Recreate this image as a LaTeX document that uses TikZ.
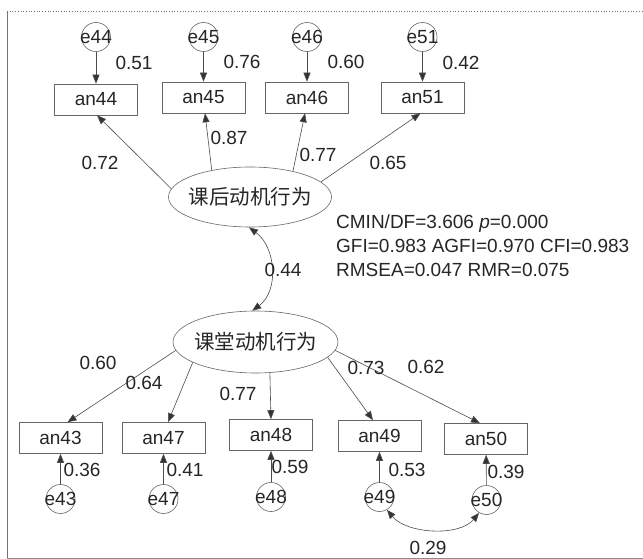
\documentclass[tikz,border=0pt]{standalone}
\usepackage{fontspec}
\setmainfont{Liberation Sans}
\newfontfamily\cjkfont{Noto Sans CJK SC}
\usetikzlibrary{shapes.geometric,arrows.meta}
\newcommand\labfont{\fontsize{19}{22}\selectfont}
\newcommand\latfont{\cjkfont\fontsize{20.5}{24}\selectfont}
\begin{document}
\begin{tikzpicture}[x=1pt,y=-1pt,
  ln/.style={draw=black!70, line width=0.6pt},
  arr/.style={ln, -{Triangle[length=9pt,width=7pt,fill=black!80]}},
  darr/.style={ln, {Triangle[length=9pt,width=7pt,fill=black!80]}-{Triangle[length=9pt,width=7pt,fill=black!80]}},
  obs/.style={draw=black!60, line width=0.6pt, minimum width=83pt, minimum height=31pt, inner sep=0pt, font=\labfont, text=black!85},
  err/.style={circle, draw=black!60, line width=0.6pt, minimum size=29pt, inner sep=0pt, font=\labfont, text=black!85},
  lat/.style={ellipse, draw=black!60, line width=0.6pt, inner sep=0pt, font=\latfont, text=black!85},
  lab/.style={font=\labfont, text=black!85, inner sep=0pt}
]
\useasboundingbox (0,0) rectangle (643,559);
\fill[white] (0,0) rectangle (643,559);
% frame
\draw[black!55, line width=0.7pt, dotted] (7,11) -- (643,11);
\draw[black!55, line width=0.8pt] (7,11) -- (7,558);
\draw[black!45, line width=0.8pt] (7,558) -- (643,558);

% upper latent and indicators
\node[lat, minimum width=163pt, minimum height=60pt] (up) at (250,197) {\makebox[0pt]{课后动机行为}};
\node[obs] (an44) at (96,99.5) {an44};
\node[obs] (an45) at (203.5,97.5) {an45};
\node[obs] (an46) at (307,97.5) {an46};
\node[obs] (an51) at (422.5,97.5) {an51};
\node[err] (e44) at (96,37) {\makebox[0pt]{e44}};
\node[err] (e45) at (203.5,37) {\makebox[0pt]{e45}};
\node[err] (e46) at (307,37) {\makebox[0pt]{e46}};
\node[err] (e51) at (422.5,37) {\makebox[0pt]{e51}};

% lower latent and indicators
\node[lat, minimum width=165pt, minimum height=62pt] (lo) at (255.5,342) {\makebox[0pt]{课堂动机行为}};
\node[obs] (an43) at (60.5,438) {an43};
\node[obs] (an47) at (163.5,438) {an47};
\node[obs] (an48) at (271,435) {an48};
\node[obs] (an49) at (379.5,436) {an49};
\node[obs] (an50) at (486,439) {an50};
\node[err] (e43) at (60.5,499) {\makebox[0pt]{e43}};
\node[err] (e47) at (163.5,499) {\makebox[0pt]{e47}};
\node[err] (e48) at (271,497) {\makebox[0pt]{e48}};
\node[err] (e49) at (379.5,497) {\makebox[0pt]{e49}};
\node[err] (e50) at (486.5,500) {\makebox[0pt]{e50}};

% error arrows upper
\draw[arr] (e44) -- (an44);
\draw[arr] (e45) -- (an45);
\draw[arr] (e46) -- (an46);
\draw[arr] (e51) -- (an51);
% loadings upper
\draw[arr] (up.174) -- ([xshift=1pt]an44.south);
\draw[arr] (up.145) -- ([xshift=1.5pt]an45.south);
\draw[arr] (up.31) -- ([xshift=-2pt]an46.south);
\draw[arr] (up.12) -- ([xshift=-2pt]an51.south);

% loadings lower
\draw[arr] (lo.186) -- ([xshift=7pt]an43.north);
\draw[arr] (lo.198) -- ([xshift=4.5pt]an47.north);
\draw[arr] (lo.295) -- (an48.north);
\draw[arr] (lo.348.6) -- ([xshift=-6.5pt]an49.north);
\draw[arr] (lo.354.5) -- ([xshift=-6pt]an50.north);
% error arrows lower
\draw[arr] (e43) -- (an43);
\draw[arr] (e47) -- (an47);
\draw[arr] (e48) -- (an48);
\draw[arr] (e49) -- (an49);
\draw[arr] (e50) -- (an50);

% covariances
\draw[darr] (up.268) .. controls +(27,20) and +(27,-20) .. (lo.96);
\draw[darr] (e49.300) .. controls +(20,24) and +(-20,24) .. (e50.240);

% labels
\node[lab] (l51) at (134,63) {0.51};
\node[lab] (l76) at (242,62) {0.76};
\node[lab] (l60a) at (346,62) {0.60};
\node[lab] (l42) at (461,63) {0.42};
\node[lab] (l87) at (229,138) {0.87};
\node[lab] (l72) at (100,163) {0.72};
\node[lab] (l77a) at (318,155) {0.77};
\node[lab] (l65) at (388,163) {0.65};
\node[lab] (l44) at (283,270) {0.44};
\node[lab] (l60b) at (98,363) {0.60};
\node[lab] (l64) at (144,383) {0.64};
\node[lab] (l77b) at (238,394) {0.77};
\node[lab] (l73) at (366,368) {0.73};
\node[lab] (l62) at (426,367) {0.62};
\node[lab] (l36) at (82,470) {0.36};
\node[lab] (l41) at (185,470) {0.41};
\node[lab] (l59) at (290,467) {0.59};
\node[lab] (l53) at (407,470) {0.53};
\node[lab] (l39) at (506,472) {0.39};
\node[lab] (l29) at (428,548) {0.29};

% fit indices
\node[lab, anchor=base west] (fit1) at (336,228) {CMIN/DF=3.606 \textit{p}=0.000};
\node[lab, anchor=base west] (fit2) at (336,252) {GFI=0.983 AGFI=0.970 CFI=0.983};
\node[lab, anchor=base west] (fit3) at (336,276) {RMSEA=0.047 RMR=0.075};
\end{tikzpicture}
\end{document}
